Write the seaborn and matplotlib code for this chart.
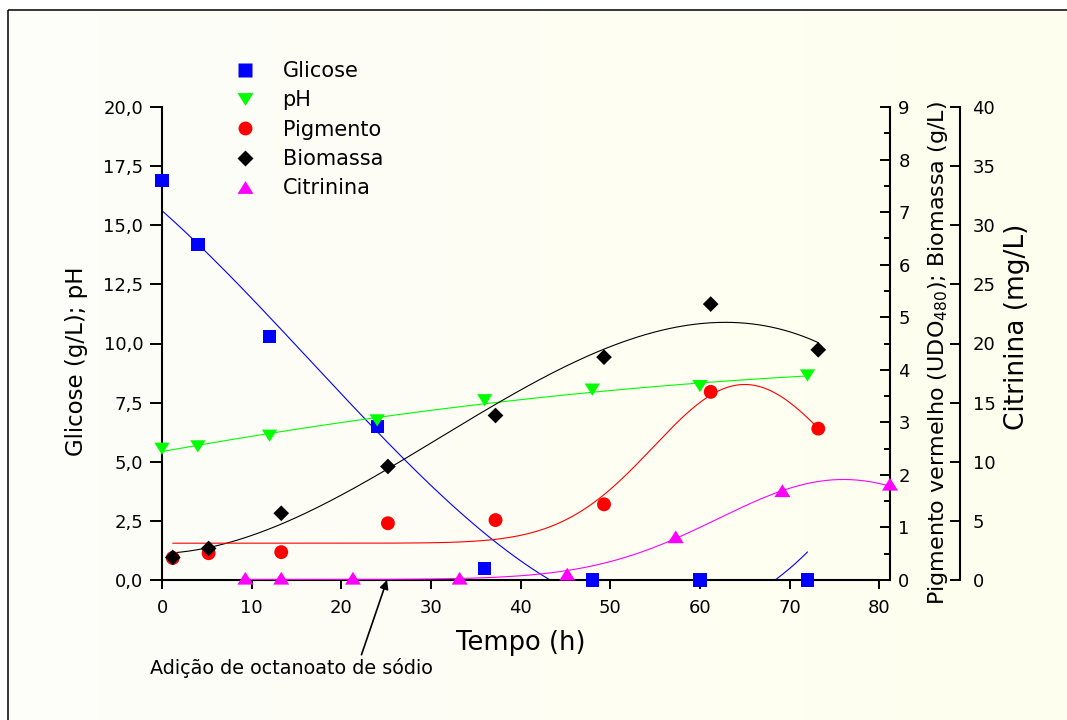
import numpy as np
import matplotlib
matplotlib.use("Agg")
import matplotlib.pyplot as plt
import seaborn as sns
from matplotlib.lines import Line2D
from matplotlib.patches import Rectangle
from matplotlib.path import Path
from matplotlib.ticker import MultipleLocator, FuncFormatter

# ---------------- data ----------------
t_glicose = [0, 4, 12, 24, 36, 48, 60, 72]
glicose = [16.9, 14.2, 10.3, 6.5, 0.5, 0.0, 0.0, 0.0]

t_ph = [0, 4, 12, 24, 36, 48, 60, 72]
ph = [5.55, 5.65, 6.1, 6.75, 7.6, 8.05, 8.2, 8.65]

t_biomassa = [1.2, 5.2, 13.3, 25.2, 37.2, 49.3, 61.2, 73.2]
biomassa = [0.43, 0.60, 1.27, 2.16, 3.13, 4.24, 5.25, 4.38]

t_pigmento = [1.2, 5.2, 13.3, 25.2, 37.2, 49.3, 61.2, 73.2]
pigmento = [0.42, 0.51, 0.53, 1.08, 1.14, 1.44, 3.58, 2.88]

t_citrinina = [9.3, 13.3, 21.3, 33.2, 45.2, 57.3, 69.2, 81.2]
citrinina = [0.15, 0.15, 0.15, 0.15, 0.5, 3.65, 7.55, 8.1]

# glucose fit curve, values read along the drawn cubic (fitted again below)
glicose_curve_t = [0, 4, 12, 24, 36, 40, 43.5, 67.6, 72]
glicose_curve_v = [15.64, 14.16, 11.08, 6.48, 1.83, 0.70, 0.0, 0.0, 1.03]

# fitted-model parameters
# Gaussian: baseline, amplitude, centre, width
pigmento_gauss = [0.70, 3.02, 65.0, 10.2]
citrinina_gauss = [0.05, 8.45, 76.0, 14.0]

legend_labels = ["Glicose", "pH", "Pigmento", "Biomassa", "Citrinina"]
x_ticks = [0, 10, 20, 30, 40, 50, 60, 70, 80]
annotation_text = "Adição de octanoato de sódio"
annotation_time = 25.1

# ---------------- style ----------------
sns.set_style("ticks", rc={"axes.edgecolor": "black", "xtick.color": "black",
                           "ytick.color": "black", "text.color": "black",
                           "axes.labelcolor": "black"})
plt.rcParams["font.family"] = ["DejaVu Sans"]
plt.rcParams["mathtext.fontset"] = "dejavusans"

BLUE, GREEN, RED, BLACK, MAG = "#0000FF", "#00FF00", "#FF0000", "#000000", "#FF00FF"

tri_down = Path([(-1, 0.8), (1, 0.8), (0, -0.8), (-1, 0.8)])
tri_up = Path([(-1, -0.8), (1, -0.8), (0, 0.8), (-1, -0.8)])

W, H = 1067, 720
fig = plt.figure(figsize=(W / 100, H / 100), dpi=100)
fig.patch.set_facecolor("white")

# background panel with a soft gradient and frame
bg = fig.add_axes([0, 0, 1, 1], zorder=-10)
g = np.linspace(0, 1, 256)[None, :, None]
c0 = np.array([253, 253, 250]) / 255
c1 = np.array([255, 255, 238]) / 255
img = c0[None, None, :] * (1 - g) + c1[None, None, :] * g
bg.imshow(img, extent=(8, W + 5, H + 5, 10), aspect="auto", interpolation="bilinear")
bg.add_patch(Rectangle((8, 10), W + 20, H + 20, fill=False, ec="black", lw=1.1))
bg.set_xlim(0, W)
bg.set_ylim(H, 0)
bg.axis("off")

L, R, T, B = 162, 890, 107, 580
ax = fig.add_axes([L / W, 1 - B / H, (R - L) / W, (B - T) / H])
ax.set_facecolor("none")
ax2 = ax.twinx()
ax3 = ax.twinx()

XMAX = 81.2

# ---------------- fitted curves ----------------
tt = np.linspace(min(t_glicose), max(t_glicose), 400)
sns.lineplot(x=tt, y=np.polyval(np.polyfit(glicose_curve_t, glicose_curve_v, 3), tt), ax=ax,
             color=BLUE, lw=0.8, legend=False)
tt = np.linspace(min(t_ph), max(t_ph), 400)
sns.lineplot(x=tt, y=np.polyval(np.polyfit(t_ph, ph, 2), tt), ax=ax,
             color=GREEN, lw=0.8, legend=False)
tt = np.linspace(min(t_biomassa), max(t_biomassa), 400)
sns.lineplot(x=tt, y=np.polyval(np.polyfit(t_biomassa, biomassa, 3), tt), ax=ax2,
             color=BLACK, lw=0.8, legend=False)


def gauss(t, p):
    y0, a, c, w = p
    return y0 + a * np.exp(-((t - c) ** 2) / (2 * w ** 2))


tt = np.linspace(min(t_pigmento), max(t_pigmento), 400)
sns.lineplot(x=tt, y=gauss(tt, pigmento_gauss), ax=ax2, color=RED, lw=0.8, legend=False)
tt = np.linspace(min(t_citrinina), max(t_citrinina), 400)
sns.lineplot(x=tt, y=gauss(tt, citrinina_gauss), ax=ax3, color=MAG, lw=0.8, legend=False)

# ---------------- points ----------------
sns.scatterplot(x=t_glicose, y=glicose, ax=ax, marker="s", s=9.6 ** 2, color=BLUE,
                edgecolor="none", linewidth=0, zorder=3, clip_on=False)
sns.scatterplot(x=t_ph, y=ph, ax=ax, marker=tri_down, s=11 ** 2, color=GREEN,
                edgecolor="none", linewidth=0, zorder=3, clip_on=False)
sns.scatterplot(x=t_pigmento, y=pigmento, ax=ax2, marker="o", s=10 ** 2, color=RED,
                edgecolor="none", linewidth=0, zorder=3, clip_on=False)
sns.scatterplot(x=t_biomassa, y=biomassa, ax=ax2, marker="D", s=8 ** 2, color=BLACK,
                edgecolor="none", linewidth=0, zorder=4, clip_on=False)
sns.scatterplot(x=t_citrinina, y=citrinina, ax=ax3, marker=tri_up, s=11.5 ** 2, color=MAG,
                edgecolor="none", linewidth=0, zorder=3, clip_on=False)

# ---------------- axes ----------------
for a in (ax, ax2, ax3):
    a.set_xlim(0, XMAX)
ax.set_ylim(0, 20)
ax2.set_ylim(0, 9)
ax3.set_ylim(0, 40)

ax.spines["top"].set_visible(False)
ax.spines["right"].set_visible(False)
ax.spines["bottom"].set_bounds(0, 80)
for s in ("left", "bottom"):
    ax.spines[s].set_linewidth(1.5)
for a in (ax2, ax3):
    for s in ("left", "top", "bottom"):
        a.spines[s].set_visible(False)
    a.spines["right"].set_linewidth(1.5)
ax3.spines["right"].set_position(("axes", (960 - L) / (R - L)))

ax.set_xticks(x_ticks)
ax.yaxis.set_major_locator(MultipleLocator(2.5))
ax.yaxis.set_major_formatter(FuncFormatter(lambda v, p: f"{v:.1f}".replace(".", ",")))
ax.tick_params(axis="y", direction="out", length=8.5, width=1.4, labelsize=13, pad=5)
ax.tick_params(axis="x", direction="out", length=6.5, width=1.4, labelsize=13, pad=7.5)

ax2.yaxis.set_major_locator(MultipleLocator(1))
ax2.yaxis.set_minor_locator(MultipleLocator(0.5))
ax2.tick_params(axis="y", which="major", direction="in", length=7.5, width=1.4,
                labelsize=13, pad=6)
ax2.tick_params(axis="y", which="minor", direction="in", length=4, width=1.4)

ax3.yaxis.set_major_locator(MultipleLocator(5))
ax3.tick_params(axis="y", direction="in", length=7.5, width=1.4, labelsize=13, pad=9)

ax.set_xlabel("Tempo (h)", fontsize=18.5)
ax.xaxis.set_label_coords((521 - L) / (R - L), -(643 - B) / (B - T))
ax.xaxis.label.set_va("center")

ax.set_ylabel("Glicose (g/L); pH", fontsize=16.5)
ax.yaxis.set_label_coords(-(L - 77) / (R - L), 1 - (361 - T) / (B - T))
ax.yaxis.label.set_va("center")

ax2.set_ylabel("Pigmento vermelho (UDO$_{480}$); Biomassa (g/L)", fontsize=16, rotation=90)
ax2.yaxis.set_label_coords((938 - L) / (R - L), 1 - (353 - T) / (B - T))
ax2.yaxis.label.set_va("center")
ax2.yaxis.label.set_rotation(90)

ax3.set_ylabel("Citrinina (mg/L)", fontsize=19, rotation=90)
ax3.yaxis.set_label_coords((1017 - L) / (R - L), 1 - (327 - T) / (B - T))
ax3.yaxis.label.set_va("center")
ax3.yaxis.label.set_rotation(90)

# ---------------- annotation ----------------
ax.annotate(annotation_text, xy=(annotation_time, 0), xycoords="data",
            xytext=(150 / W, 1 - 668 / H), textcoords="figure fraction",
            ha="left", va="center", fontsize=13.8, annotation_clip=False,
            arrowprops=dict(arrowstyle="-|>", color="black", lw=1.2, mutation_scale=13,
                            shrinkA=0, shrinkB=0, relpos=(0.74, 0.85)))

# ---------------- legend ----------------
handles = [
    Line2D([], [], ls="none", marker="s", ms=9.6, mfc=BLUE, mec="none"),
    Line2D([], [], ls="none", marker=tri_down, ms=11.5, mfc=GREEN, mec="none"),
    Line2D([], [], ls="none", marker="o", ms=10, mfc=RED, mec="none"),
    Line2D([], [], ls="none", marker="D", ms=8, mfc=BLACK, mec="none"),
    Line2D([], [], ls="none", marker=tri_up, ms=11.5, mfc=MAG, mec="none"),
]
fig.legend(handles, legend_labels, loc="upper left", bbox_to_anchor=(234.6 / W, 1 - 61 / H),
           frameon=False, fontsize=15, handlelength=1.0, handletextpad=1.3,
           labelspacing=0.45, borderpad=0, borderaxespad=0)

fig.savefig("out.png", dpi=100)
